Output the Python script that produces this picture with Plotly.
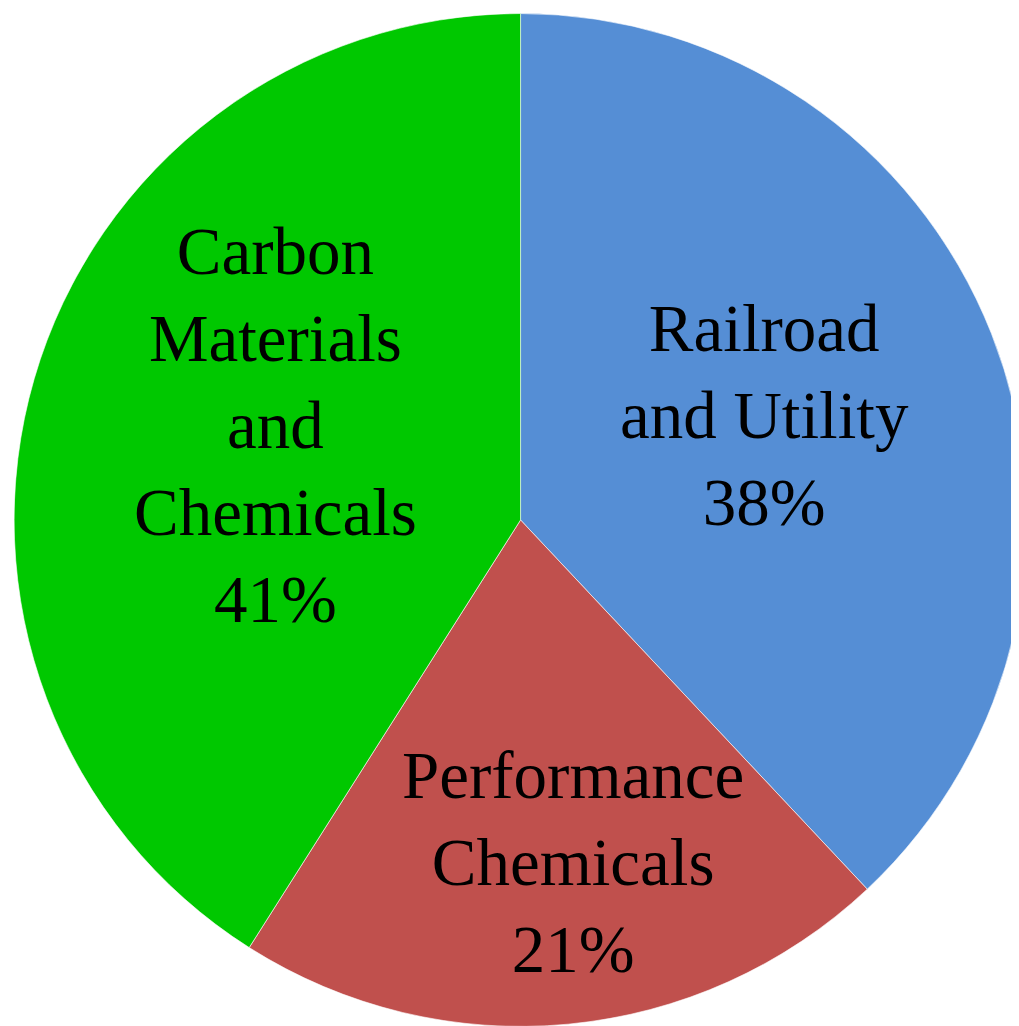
import math
import plotly.graph_objects as go

labels = ["Railroad<br>and Utility", "Performance<br>Chemicals", "Carbon<br>Materials<br>and<br>Chemicals"]
values = [38, 21, 41]
colors = ["#558ED5", "#C0504D", "#00C800"]

W, H = 1019, 1026
dom_x = [0.006, 1.0]
dom_y = [0.007, 0.995]
label_along = [0.488, 0.456, 0.534]   # position of label along each slice's arc (0 = start, 1 = end)
label_radius = [0.525, 0.683, 0.52]   # fraction of pie radius where each label sits

fig = go.Figure(go.Pie(
    labels=labels,
    values=values,
    sort=False,
    direction="clockwise",
    rotation=0,
    marker=dict(colors=colors, line=dict(width=0.6, color="white")),
    textinfo="none",
    hoverinfo="skip",
    domain=dict(x=dom_x, y=dom_y),
    showlegend=False,
))

# pie geometry (pixels) derived from domain
cx = (dom_x[0] + dom_x[1]) / 2 * W
cy = (dom_y[0] + dom_y[1]) / 2 * H
R = min((dom_x[1] - dom_x[0]) * W, (dom_y[1] - dom_y[0]) * H) / 2

total = sum(values)
cum = 0
for lab, v, fa, rf in zip(labels, values, label_along, label_radius):
    ang = (cum + v * fa) / total * 2 * math.pi
    cum += v
    px = cx + rf * R * math.sin(ang)
    py = cy + rf * R * math.cos(ang)
    fig.add_annotation(
        x=px / W, y=py / H, xref="paper", yref="paper",
        text=f"{lab}<br>{round(v / total * 100)}%",
        showarrow=False, xanchor="center", yanchor="middle",
        font=dict(family="Liberation Serif", size=67, color="black"),
    )

fig.update_layout(
    width=W, height=H,
    margin=dict(l=0, r=0, t=0, b=0),
    paper_bgcolor="white",
)

fig.write_html("out.html")
